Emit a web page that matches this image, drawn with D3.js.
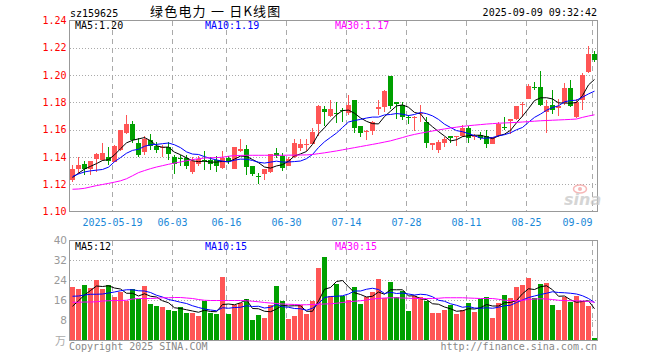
<!DOCTYPE html>
<html><head><meta charset="utf-8">
<script src="https://cdn.jsdelivr.net/npm/d3@7"></script>
<style>
html,body{margin:0;padding:0;background:#fff;}
svg{display:block;}
</style></head><body>
<svg id="chart" width="660" height="360"></svg>
<script>
// ---------------- data ----------------
const categories = [
"2025-05-08","2025-05-09","2025-05-12","2025-05-13","2025-05-14","2025-05-15","2025-05-16","2025-05-19","2025-05-20","2025-05-21","2025-05-22","2025-05-23","2025-05-26","2025-05-27","2025-05-28","2025-05-29","2025-05-30",
"2025-06-03","2025-06-04","2025-06-05","2025-06-06","2025-06-09","2025-06-10","2025-06-11","2025-06-12","2025-06-13","2025-06-16","2025-06-17","2025-06-18","2025-06-19","2025-06-20","2025-06-23","2025-06-24","2025-06-25","2025-06-26","2025-06-27","2025-06-30",
"2025-07-01","2025-07-02","2025-07-03","2025-07-04","2025-07-07","2025-07-08","2025-07-09","2025-07-10","2025-07-11","2025-07-14","2025-07-15","2025-07-16","2025-07-17","2025-07-18","2025-07-21","2025-07-22","2025-07-23","2025-07-24","2025-07-25","2025-07-28","2025-07-29","2025-07-30","2025-07-31",
"2025-08-01","2025-08-04","2025-08-05","2025-08-06","2025-08-07","2025-08-08","2025-08-11","2025-08-12","2025-08-13","2025-08-14","2025-08-15","2025-08-18","2025-08-19","2025-08-20","2025-08-21","2025-08-22","2025-08-25","2025-08-26","2025-08-27","2025-08-28","2025-08-29",
"2025-09-01","2025-09-02","2025-09-03","2025-09-04","2025-09-05","2025-09-08","2025-09-09"];

const open = [1.1228,1.1315,1.1350,1.1310,1.1385,1.1380,1.1400,1.1363,1.1452,1.1575,
1.1645,1.1505,1.1435,1.1525,1.1483,1.1465,1.1470,1.1400,1.1395,1.1390,
1.1287,1.1345,1.1380,1.1380,1.1375,1.1318,1.1393,1.1308,1.1445,1.1460,
1.1333,1.1262,1.1277,1.1290,1.1430,1.1405,1.1333,1.1398,1.1468,1.1484,
1.1492,1.1640,1.1748,1.1702,1.1722,1.1742,1.1720,1.1818,1.1627,1.1585,
1.1593,1.1752,1.1769,1.1990,1.1799,1.1782,1.1696,1.1688,1.1713,1.1659,
1.1487,1.1450,1.1500,1.1553,1.1544,1.1550,1.1611,1.1545,1.1562,1.1550,
1.1496,1.1550,1.1620,1.1667,1.1680,1.1780,1.1825,1.1913,1.1910,1.1726,
1.1778,1.1758,1.1795,1.1905,1.1692,1.1820,1.2021,1.2158];

const high = [1.1343,1.1400,1.1370,1.1372,1.1430,1.1500,1.1470,1.1490,1.1600,1.1705,
1.1665,1.1540,1.1550,1.1565,1.1510,1.1490,1.1510,1.1415,1.1415,1.1415,
1.1400,1.1405,1.1440,1.1400,1.1405,1.1445,1.1405,1.1472,1.1530,1.1490,
1.1336,1.1281,1.1311,1.1425,1.1465,1.1430,1.1400,1.1528,1.1530,1.1530,
1.1612,1.1778,1.1775,1.1815,1.1800,1.1757,1.1855,1.1818,1.1627,1.1595,
1.1664,1.1818,1.1887,1.1995,1.1800,1.1799,1.1708,1.1698,1.1782,1.1691,
1.1502,1.1524,1.1548,1.1555,1.1555,1.1636,1.1628,1.1567,1.1580,1.1594,
1.1545,1.1653,1.1692,1.1680,1.1771,1.1800,1.1937,1.1947,1.2027,1.1820,
1.1888,1.1825,1.1942,1.1967,1.1825,1.2016,1.2212,1.2175];

const low = [1.1218,1.1275,1.1270,1.1270,1.1290,1.1370,1.1340,1.1360,1.1440,1.1570,
1.1500,1.1400,1.1415,1.1450,1.1430,1.1400,1.1380,1.1275,1.1335,1.1310,
1.1275,1.1330,1.1305,1.1306,1.1290,1.1312,1.1350,1.1308,1.1437,1.1265,
1.1257,1.1203,1.1232,1.1285,1.1390,1.1300,1.1333,1.1395,1.1445,1.1442,
1.1492,1.1555,1.1630,1.1696,1.1647,1.1659,1.1708,1.1575,1.1548,1.1524,
1.1561,1.1708,1.1728,1.1750,1.1676,1.1671,1.1639,1.1593,1.1659,1.1463,
1.1450,1.1430,1.1475,1.1504,1.1480,1.1545,1.1505,1.1525,1.1525,1.1464,
1.1496,1.1545,1.1599,1.1569,1.1670,1.1692,1.1825,1.1893,1.1770,1.1579,
1.1717,1.1697,1.1778,1.1766,1.1685,1.1741,1.2016,1.2094];

const close = [1.1312,1.1340,1.1310,1.1370,1.1422,1.1430,1.1368,1.1483,1.1595,1.1638,
1.1527,1.1417,1.1532,1.1480,1.1452,1.1475,1.1420,1.1350,1.1385,1.1335,
1.1368,1.1385,1.1372,1.1350,1.1335,1.1392,1.1372,1.1470,1.1460,1.1325,
1.1277,1.1257,1.1310,1.1422,1.1405,1.1320,1.1388,1.1500,1.1498,1.1495,
1.1580,1.1770,1.1728,1.1748,1.1718,1.1738,1.1782,1.1613,1.1578,1.1593,
1.1656,1.1769,1.1885,1.1774,1.1787,1.1691,1.1684,1.1696,1.1720,1.1504,
1.1500,1.1512,1.1531,1.1536,1.1553,1.1615,1.1540,1.1550,1.1537,1.1496,
1.1545,1.1643,1.1615,1.1677,1.1770,1.1790,1.1918,1.1908,1.1778,1.1775,
1.1746,1.1771,1.1905,1.1771,1.1800,1.2004,1.2158,1.2109];

const volume = [21.3,20.5,22.1,20.9,24.1,20.5,22.1,17.3,19.1,15.5,
20.5,16.5,21.7,14.5,13.7,13.3,12.1,11.7,13.3,10.9,
10.9,9.7,15.7,10.9,10.5,25.3,10.5,14.1,14.9,16.5,
8.1,10.1,8.9,14.1,21.7,15.7,8.5,9.7,14.1,10.5,
15.7,28.9,33.3,17.7,22.5,17.7,16.1,21.3,14.5,17.3,
19.3,24.5,16.9,23.3,17.3,19.7,11.7,17.7,17.3,15.7,
10.9,10.9,12.1,14.1,10.5,12.1,14.9,11.3,16.5,17.3,
8.9,14.9,18.1,16.9,21.3,22.1,24.9,16.9,22.5,22.9,
14.1,12.1,17.3,15.3,17.7,15.7,13.7,0.9];

const ma5 = [1.1249,1.1281,1.1311,1.1331,1.1351,1.1374,1.1380,1.1415,1.1460,1.1503,
1.1522,1.1532,1.1542,1.1519,1.1482,1.1471,1.1472,1.1435,1.1416,1.1393,
1.1372,1.1365,1.1369,1.1362,1.1362,1.1367,1.1364,1.1384,1.1406,1.1404,
1.1381,1.1358,1.1326,1.1318,1.1334,1.1343,1.1369,1.1407,1.1422,1.1440,
1.1492,1.1569,1.1614,1.1664,1.1709,1.1740,1.1743,1.1720,1.1686,1.1661,
1.1644,1.1642,1.1696,1.1735,1.1774,1.1781,1.1764,1.1726,1.1716,1.1659,
1.1621,1.1586,1.1553,1.1517,1.1526,1.1549,1.1555,1.1559,1.1559,1.1548,
1.1534,1.1554,1.1567,1.1595,1.1650,1.1699,1.1754,1.1813,1.1833,1.1834,
1.1825,1.1796,1.1795,1.1794,1.1799,1.1850,1.1928,1.1968];

const ma10 = [1.1257,1.1275,1.1290,1.1298,1.1303,1.1308,1.1325,1.1365,1.1395,1.1427,
1.1448,1.1456,1.1478,1.1489,1.1492,1.1497,1.1502,1.1489,1.1468,1.1437,
1.1421,1.1418,1.1402,1.1389,1.1378,1.1369,1.1364,1.1376,1.1384,1.1383,
1.1374,1.1361,1.1355,1.1362,1.1369,1.1362,1.1363,1.1366,1.1370,1.1387,
1.1418,1.1469,1.1511,1.1543,1.1575,1.1616,1.1656,1.1667,1.1675,1.1685,
1.1692,1.1692,1.1708,1.1711,1.1718,1.1713,1.1703,1.1711,1.1726,1.1717,
1.1701,1.1675,1.1640,1.1616,1.1593,1.1585,1.1571,1.1556,1.1538,1.1537,
1.1542,1.1555,1.1563,1.1577,1.1599,1.1616,1.1654,1.1690,1.1714,1.1742,
1.1762,1.1775,1.1804,1.1813,1.1816,1.1838,1.1862,1.1882];

const ma30 = [1.1163,1.1165,1.1170,1.1180,1.1190,1.1198,1.1206,1.1215,1.1225,1.1240,
1.1262,1.1285,1.1300,1.1314,1.1326,1.1336,1.1346,1.1355,1.1363,1.1372,
1.1380,1.1387,1.1392,1.1394,1.1395,1.1398,1.1405,1.1410,1.1411,1.1412,
1.1412,1.1412,1.1412,1.1412,1.1412,1.1412,1.1413,1.1413,1.1414,1.1415,
1.1418,1.1424,1.1430,1.1437,1.1444,1.1452,1.1460,1.1468,1.1476,1.1484,
1.1492,1.1500,1.1509,1.1518,1.1530,1.1542,1.1555,1.1565,1.1574,1.1582,
1.1590,1.1598,1.1605,1.1612,1.1618,1.1624,1.1629,1.1633,1.1637,1.1641,
1.1644,1.1647,1.1649,1.1651,1.1653,1.1656,1.1659,1.1662,1.1665,1.1667,
1.1669,1.1671,1.1673,1.1675,1.1678,1.1690,1.1700,1.1709];

const vma5 = [13.7,15.9,18.2,20.0,21.8,21.6,21.9,21.0,20.6,18.9,
18.9,17.8,18.7,17.7,17.4,15.9,15.1,13.1,12.8,12.3,
11.8,11.3,12.1,11.6,11.5,14.4,14.6,14.3,15.1,16.3,
12.8,12.7,11.7,11.5,12.6,14.1,13.8,13.9,13.9,11.7,
11.7,15.8,20.5,21.2,23.6,24.0,21.5,19.1,18.4,17.4,
17.7,19.4,18.5,20.3,20.3,20.3,17.8,17.9,16.7,16.4,
14.7,14.5,13.4,12.7,11.7,11.9,12.7,12.6,13.1,14.4,
13.8,13.8,15.1,15.2,16.0,18.7,20.7,20.4,21.5,21.9,
20.3,17.7,17.8,16.3,15.3,15.6,15.9,12.7];

const vma10 = [17.7,17.8,18.2,18.5,18.5,18.6,19.0,19.4,19.9,20.3,
20.3,19.9,19.8,19.2,18.1,17.4,16.4,15.9,15.3,14.8,
13.9,13.2,12.6,12.2,11.9,13.1,12.9,13.2,13.3,13.9,
13.6,13.7,13.0,13.3,14.4,13.5,13.3,12.8,12.7,12.1,
12.9,14.8,17.2,17.6,17.7,17.9,18.6,19.8,19.8,20.5,
20.9,20.4,18.8,19.3,18.8,19.0,18.6,18.2,18.5,18.3,
17.5,16.1,15.7,14.7,14.1,13.3,13.6,13.0,12.9,13.1,
12.9,13.3,13.9,14.1,15.2,16.2,17.2,17.8,18.4,18.9,
19.5,19.2,19.1,18.9,18.6,17.9,16.8,15.2];

const vma30 = [15.3,15.3,15.4,15.4,15.5,15.8,15.9,16.0,16.0,16.1,
16.6,16.8,16.8,16.8,16.9,17.1,17.1,17.2,17.2,17.0,
16.8,16.4,16.1,16.0,16.0,16.0,16.0,16.0,16.0,15.9,
15.7,15.5,15.2,15.0,14.8,14.6,14.5,14.4,14.3,14.3,
14.4,14.5,14.6,14.7,14.9,15.2,15.5,15.7,15.9,16.2,
16.6,16.8,17.0,17.1,17.1,17.0,16.9,16.8,16.8,16.8,
16.8,16.9,17.1,17.1,17.1,17.1,17.0,16.9,16.8,16.8,
16.8,16.5,16.1,16.0,15.9,16.1,16.4,16.6,16.7,16.6,
16.4,16.1,16.0,15.9,15.9,15.8,15.6,15.3];

const tickDates = ["2025-05-19","2025-06-03","2025-06-16","2025-06-30","2025-07-14","2025-07-28","2025-08-11","2025-08-25","2025-09-09"];
const tickLabels = ["2025-05-19","06-03","06-16","06-30","07-14","07-28","08-11","08-25","09-09"];
const priceTicks = [1.10,1.12,1.14,1.16,1.18,1.20,1.22,1.24];
const volTicks = [8,16,24,32,40];

const stockCode = "sz159625";
const title = "绿色电力 一 日K线图";
const timeStamp = "2025-09-09 09:32:42";

// ---------------- chart ----------------
const RED = "#ff5555", GREEN = "#00a000";
const MONO = "'DejaVu Sans Mono', monospace";
const svg = d3.select("#chart");
svg.append("rect").attr("width",660).attr("height",360).attr("fill","#fff");

const L = 70, R = 597;
const x = d3.scaleBand().domain(categories).range([L, R]).paddingInner(1/6).paddingOuter(0);
const y = d3.scaleLinear().domain([1.10, 1.24]).range([211.5, 20.5]);
const vy = d3.scaleLinear().domain([0, 40]).range([340.5, 240.5]);
const px = d => Math.round(x(d));
const bw = Math.round(x.bandwidth());

const data = categories.map((d,i) => ({d, o:open[i], h:high[i], l:low[i], c:close[i], v:volume[i],
  ma5:ma5[i], ma10:ma10[i], ma30:ma30[i], vma5:vma5[i], vma10:vma10[i], vma30:vma30[i]}));

// horizontal grids via axes
const gridP = svg.append("g").attr("transform",`translate(${L},0)`)
  .call(d3.axisLeft(y).tickValues(priceTicks.slice(1,-1)).tickSize(-(R-L+1)).tickFormat(""));
gridP.select(".domain").remove();
gridP.selectAll(".tick").attr("transform", d => `translate(0,${Math.round(y(d))+0.5})`);
gridP.selectAll(".tick line").attr("stroke","#aaa").attr("stroke-dasharray","1,2");

const gridV = svg.append("g").attr("transform",`translate(${L},0)`)
  .call(d3.axisLeft(vy).tickValues(volTicks.slice(0,-1)).tickSize(-(R-L+1)).tickFormat(""));
gridV.select(".domain").remove();
gridV.selectAll(".tick").attr("transform", d => `translate(0,${Math.floor(vy(d))+0.5})`);
gridV.selectAll(".tick line").attr("stroke","#aaa").attr("stroke-dasharray","1,2");

// vertical dashed grid
const vg = svg.append("g").attr("stroke","#aaa").attr("stroke-dasharray","5,4");
tickDates.forEach(d => {
  const X = px(d) + 0.5;
  vg.append("line").attr("x1",X).attr("x2",X).attr("y1",21).attr("y2",211);
  vg.append("line").attr("x1",X).attr("x2",X).attr("y1",241).attr("y2",340);
});

// candles
const cg = svg.append("g").attr("shape-rendering","crispEdges");
data.forEach(p => {
  const col = p.c >= p.o ? RED : GREEN;
  const X = px(p.d);
  const yh = Math.round(y(p.h)), yl = Math.round(y(p.l));
  cg.append("rect").attr("x", X + 2).attr("width",1).attr("y", yh).attr("height", Math.max(1, yl - yh)).attr("fill", col);
  const t = Math.round(y(Math.max(p.o,p.c))), b = Math.round(y(Math.min(p.o,p.c)));
  cg.append("rect").attr("x", X).attr("width", bw).attr("y", t).attr("height", Math.max(1, b - t)).attr("fill", col);
  const vt = Math.round(vy(p.v) - 0.5);
  cg.append("rect").attr("x", X).attr("width", bw).attr("y", vt).attr("height", 340 - vt).attr("fill", col);
});

// MA lines
const defs = svg.append("defs");
defs.append("clipPath").attr("id","cp").append("rect").attr("x",L).attr("y",21).attr("width",R-L+1).attr("height",190);
defs.append("clipPath").attr("id","cv").append("rect").attr("x",L).attr("y",241).attr("width",R-L+1).attr("height",99);
const cx = d => x(d.d) + bw/2;
const lines = [["ma5","#000"],["ma10","#0000ff"],["ma30","#ff00ff"]];
lines.forEach(([k,c]) => {
  svg.append("path").attr("clip-path","url(#cp)").attr("fill","none").attr("stroke",c).attr("stroke-width",1)
    .attr("d", d3.line().x(cx).y(d => y(d[k]))(data));
});
[["vma5","#000"],["vma10","#0000ff"],["vma30","#ff00ff"]].forEach(([k,c]) => {
  svg.append("path").attr("clip-path","url(#cv)").attr("fill","none").attr("stroke",c).attr("stroke-width",1)
    .attr("d", d3.line().x(cx).y(d => vy(d[k]))(data));
});

// frames
svg.append("rect").attr("x",L-0.5).attr("y",20.5).attr("width",R-L+1).attr("height",191)
  .attr("fill","none").attr("stroke","#999");
svg.append("rect").attr("x",L-0.5).attr("y",240.5).attr("width",R-L+1).attr("height",100)
  .attr("fill","none").attr("stroke","#999");

// price axis labels
const ay = svg.append("g").attr("transform",`translate(${L},0)`)
  .call(d3.axisLeft(y).tickValues(priceTicks).tickSize(0).tickPadding(3.5).tickFormat(d3.format(".2f")));
ay.select(".domain").remove();
ay.selectAll("text").attr("fill","#ff0000").attr("font-family",MONO).attr("font-size","10px");

// volume axis labels
const av = svg.append("g").attr("transform",`translate(${L},0)`)
  .call(d3.axisLeft(vy).tickValues(volTicks).tickSize(0).tickPadding(3).tickFormat(d3.format("d")));
av.select(".domain").remove();
av.selectAll("text").attr("fill","#999").attr("font-family","'DejaVu Sans', sans-serif").attr("font-size","10.5px");
svg.append("text").attr("x",66).attr("y",345).attr("text-anchor","end").attr("fill","#aaa")
  .attr("font-family","'Noto Sans CJK SC', sans-serif").attr("font-size","11px").text("万");

// date axis labels
const ax = svg.append("g").attr("transform","translate(0,212)")
  .call(d3.axisBottom(x).tickValues(tickDates).tickSize(0).tickPadding(6.5)
    .tickFormat(d => tickLabels[tickDates.indexOf(d)]));
ax.select(".domain").remove();
ax.selectAll(".tick").attr("transform", d => `translate(${px(d)+0.5},0)`);
ax.selectAll("text").attr("fill","#1a88d8").attr("font-family",MONO).attr("font-size","10px")
  .attr("text-anchor", (d,i) => i === tickDates.length-1 ? "end" : "middle");

// header texts
const txt = (X, Y, s, col, anchor, font, size) => svg.append("text").attr("x",X).attr("y",Y)
  .attr("fill",col).attr("text-anchor",anchor||"start").attr("font-family",font||MONO)
  .attr("font-size",size||"10px").text(s);
txt(70, 16.5, stockCode, "#000");
txt(150, 16, title, "#000", "start", "'Noto Sans CJK SC', sans-serif", "13px").attr("letter-spacing","1.2px");
txt(597, 16, timeStamp, "#000", "end");

const last = data[data.length-1];
txt(75, 29, "MA5:" + last.ma5.toFixed(2), "#000");
txt(205, 29, "MA10:" + last.ma10.toFixed(2), "#0000ff");
txt(335, 29, "MA30:" + last.ma30.toFixed(2), "#ff00ff");
txt(75, 249.5, "MA5:" + Math.floor(last.vma5), "#000");
txt(205, 249.5, "MA10:" + Math.floor(last.vma10), "#0000ff");
txt(335, 249.5, "MA30:" + Math.floor(last.vma30), "#ff00ff");

txt(69, 350, "Copyright 2025 SINA.COM", "#888");
txt(597, 350, "http://finance.sina.com.cn", "#888", "end");

// sina watermark
const wm = svg.append("g").attr("opacity",0.75);
wm.append("ellipse").attr("cx",580).attr("cy",189).attr("rx",6.5).attr("ry",4).attr("fill","none").attr("stroke","#f4a0a0").attr("stroke-width",1.5);
wm.append("circle").attr("cx",580).attr("cy",189).attr("r",2).attr("fill","#f4a0a0");
wm.append("text").attr("x",564).attr("y",205).attr("fill","#c8c8c8").attr("font-family","'DejaVu Sans', sans-serif")
  .attr("font-size","16px").attr("font-weight","bold").attr("font-style","italic").text("sina");
</script>
</body></html>
